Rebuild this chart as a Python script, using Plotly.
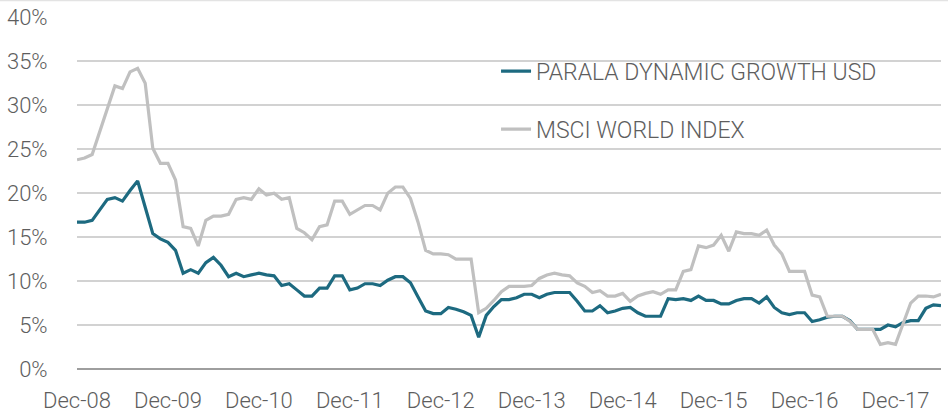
import pandas as pd
import plotly.graph_objects as go

months = [d.strftime("%b-%y") for d in pd.date_range("2008-12-01", periods=115, freq="MS")]

parala = [16.7,16.7,16.9,18.1,19.3,19.5,19.1,20.3,21.4,18.4,15.4,14.8,14.4,13.5,10.9,11.3,10.9,12.1,12.7,11.8,
          10.5,10.9,10.5,10.7,10.9,10.7,10.6,9.5,9.7,9.0,8.3,8.3,
          9.2,9.2,10.6,10.6,9.0,9.2,9.7,9.7,9.5,10.1,10.5,10.5,9.8,8.2,6.6,6.3,6.3,7.0,6.8,6.5,6.1,3.6,6.1,7.1,
          7.9,7.9,8.1,8.5,8.5,8.1,8.5,8.7,8.7,8.7,7.7,6.6,6.6,7.2,6.4,6.6,
          6.9,7.0,6.4,6.0,6.0,6.0,8.0,7.9,8.0,7.8,8.3,7.8,7.8,7.4,7.4,7.8,8.0,8.0,7.5,8.2,7.0,6.4,6.2,6.4,6.4,
          5.4,5.6,5.9,6.0,6.0,5.5,4.5,4.5,4.5,4.5,5.0,4.8,5.3,5.5,5.5,6.9,7.3,7.2]

msci = [23.8,24.0,24.4,27.0,29.4,32.2,31.9,33.8,34.2,32.5,25.1,23.4,23.4,21.5,16.2,16.0,14.0,16.9,17.4,17.4,
        17.6,19.3,19.5,19.3,20.5,19.8,20.0,19.3,19.5,16.0,15.5,14.7,
        16.2,16.4,19.1,19.1,17.6,18.1,18.6,18.6,18.1,20.0,20.7,20.7,19.4,16.7,13.5,13.1,13.1,13.0,12.5,12.5,
        12.5,6.4,6.9,7.8,8.8,9.4,9.4,9.4,9.5,10.3,10.7,10.9,10.7,10.6,9.8,9.4,8.7,8.9,8.3,8.3,
        8.6,7.7,8.3,8.6,8.8,8.5,9.0,9.0,11.1,11.3,14.0,13.8,14.1,15.2,13.4,15.6,15.4,15.4,15.2,15.8,14.1,13.1,
        11.1,11.1,11.1,8.4,8.2,6.0,6.0,6.0,5.4,4.5,4.5,4.5,2.8,3.0,2.8,5.2,7.5,8.3,8.3,8.2,8.5]

series_names = ["PARALA DYNAMIC GROWTH USD", "MSCI WORLD INDEX"]
y_ticks = [0, 5, 10, 15, 20, 25, 30, 35, 40]
y_tick_text = ["0%", "5%", "10%", "15%", "20%", "25%", "30%", "35%", "40%"]
x_ticks = [m for m in months if m.startswith("Dec")]

TEXT = "#5E5E5E"
font = dict(family="Roboto", size=22, color=TEXT, weight=300)

fig = go.Figure()
fig.add_trace(go.Scatter(x=months, y=parala, name=series_names[0], mode="lines",
                         line=dict(color="#1D6A80", width=3.2), legendgroup="a"))
fig.add_trace(go.Scatter(x=months, y=msci, name=series_names[1], mode="lines",
                         line=dict(color="#C0C0C0", width=3.2), legendgroup="b"))

fig.update_layout(
    width=948, height=414,
    margin=dict(l=77, r=7, t=17, b=45, autoexpand=False),
    paper_bgcolor="white", plot_bgcolor="white",
    font=font,
    showlegend=True,
    legend=dict(x=0.485, y=0.907, xanchor="left", yanchor="top",
                bgcolor="rgba(0,0,0,0)", font=dict(family="Roboto", size=23, color=TEXT, weight=300),
                tracegroupgap=25, traceorder="grouped", itemwidth=30),
    shapes=[dict(type="line", xref="paper", yref="paper",
                 x0=-77 / 864, x1=1 + 7 / 864, y0=1 + 16.5 / 352, y1=1 + 16.5 / 352,
                 line=dict(color="#E3E3E3", width=1.5))],
)
fig.update_xaxes(type="category", range=[0, len(months) - 1], automargin=False,
                 tickvals=x_ticks, ticktext=x_ticks, tickangle=0,
                 showgrid=False, showline=False, zeroline=False,
                 ticks="outside", ticklen=12, tickcolor="rgba(0,0,0,0)", tickfont=font)
fig.update_yaxes(range=[0, 40.04], tickvals=y_ticks, ticktext=y_tick_text, automargin=False,
                 showgrid=True, gridcolor="#D2D2D2", gridwidth=1.6,
                 zeroline=True, zerolinecolor="#9E9E9E", zerolinewidth=1.6,
                 showline=False, ticks="outside", ticklen=24, tickcolor="rgba(0,0,0,0)", tickfont=font)

fig.write_html("out.html", config={"displayModeBar": False},
               post_script="document.body.style.margin='0';document.body.style.overflow='hidden';")
